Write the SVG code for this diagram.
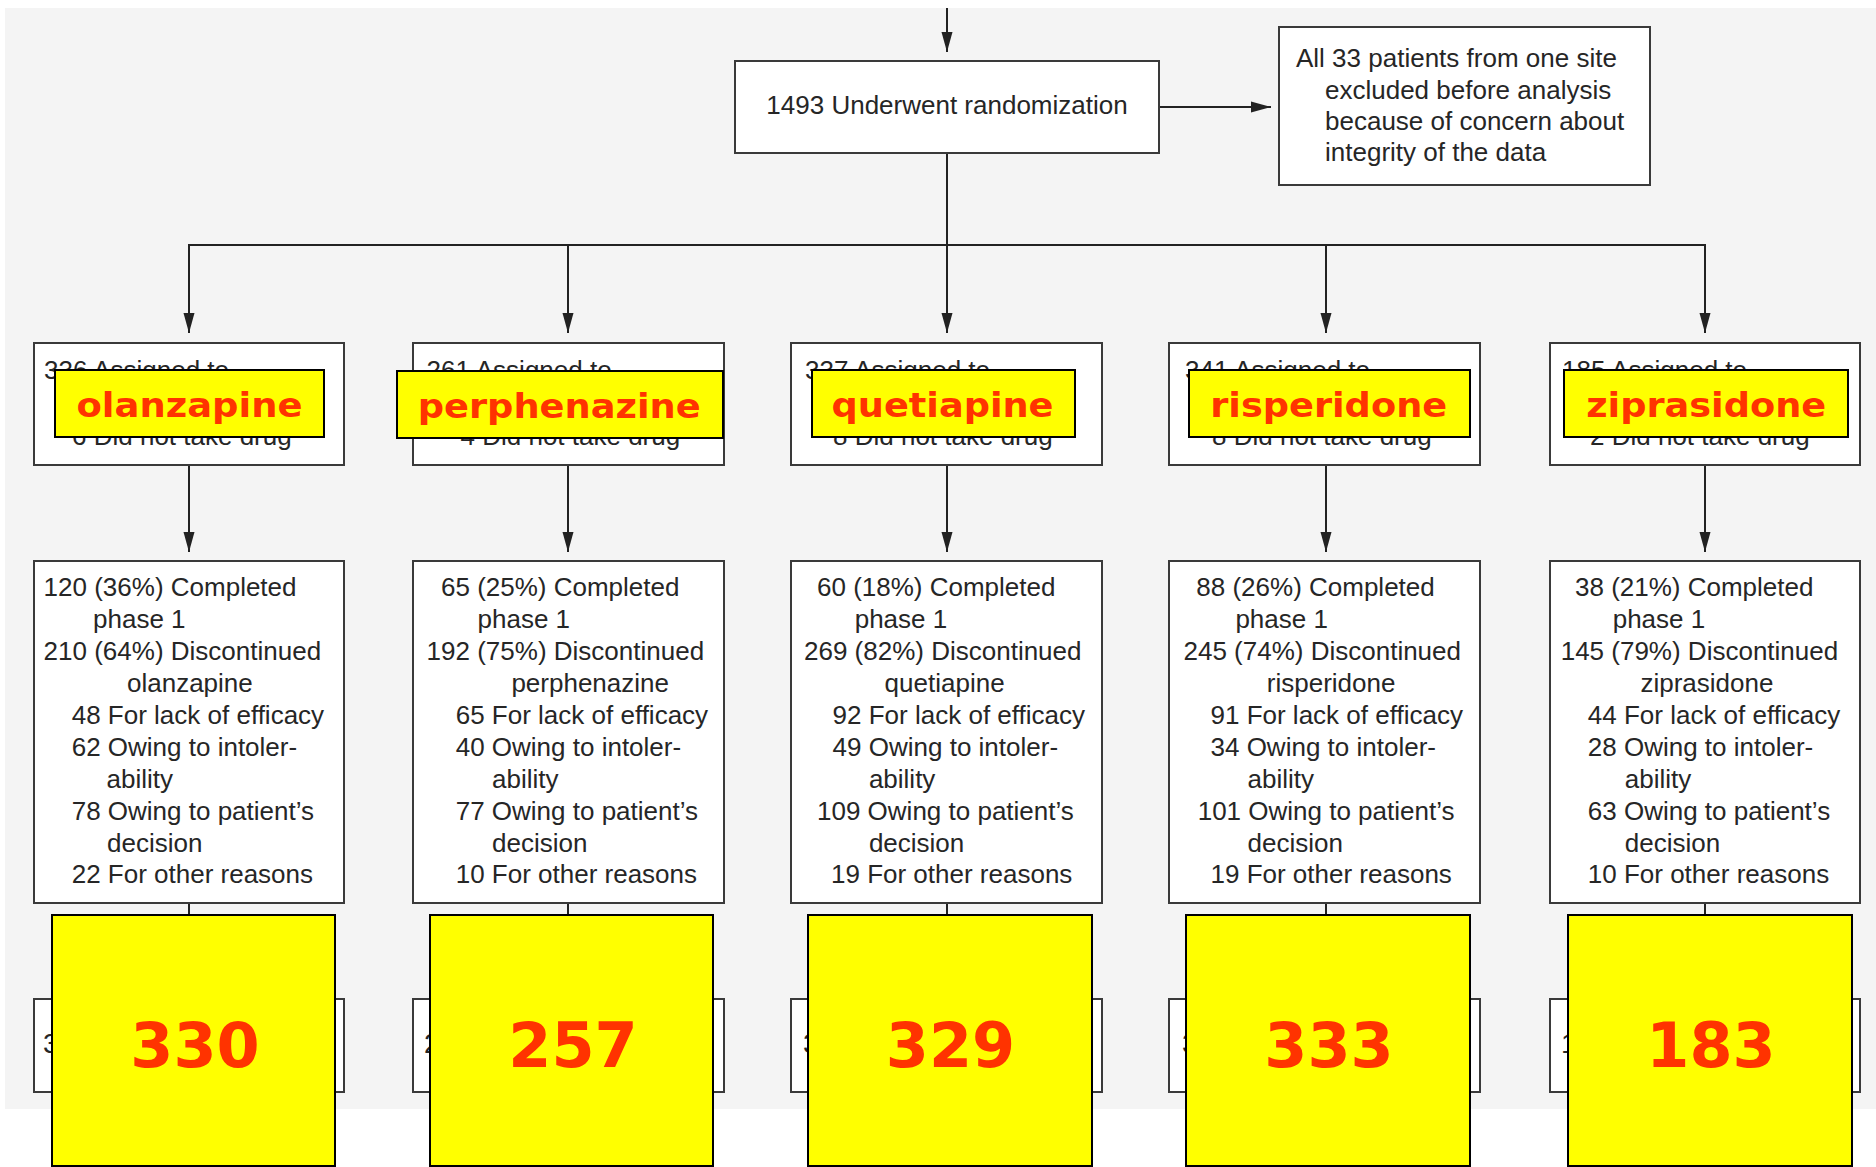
<svg xmlns="http://www.w3.org/2000/svg" width="1876" height="1167" viewBox="0 0 1876 1167">
  <defs>
    <marker id="arrow" markerUnits="userSpaceOnUse" markerWidth="20" markerHeight="12" refX="20" refY="6" orient="auto">
      <path d="M0,0.5 L20,6 L0,11.5 z" fill="#222"/>
    </marker>
    <style>
      .box { fill: #ffffff; stroke: #3a3a3a; stroke-width: 2; }
      .link { fill: none; stroke: #222; stroke-width: 2; }
      .txt { font-family: "Liberation Sans", Arial, sans-serif; font-size: 26px; fill: #262626; }
      .num-hidden { font-family: "Liberation Sans", Arial, sans-serif; font-size: 28px; fill: #262626; }
      .tag { fill: #ffff00; stroke: #000; stroke-width: 2; }
      .tag-txt { font-family: "DejaVu Sans", Verdana, sans-serif; font-weight: bold; font-size: 33px; fill: #ff3300; text-anchor: middle; }
      .count-txt { font-family: "DejaVu Sans", Verdana, sans-serif; font-weight: bold; font-size: 62px; fill: #ff3300; text-anchor: middle; }
    </style>
  </defs>

  <!-- page -->
  <rect x="0" y="0" width="1876" height="1167" fill="#ffffff"/>
  <rect x="5" y="8" width="1871" height="1101" fill="#f4f4f4"/>

  <!-- connectors -->
  <g id="connectors">
    <line class="link" x1="947" y1="8" x2="947" y2="52" marker-end="url(#arrow)"/>
    <line class="link" x1="1159" y1="107" x2="1271" y2="107" marker-end="url(#arrow)"/>
    <polyline class="link" points="947,153 947,245"/>
    <line class="link" x1="188" y1="245" x2="1706" y2="245"/>
    <line class="link" x1="189" y1="245" x2="189" y2="333" marker-end="url(#arrow)"/>
    <line class="link" x1="568" y1="245" x2="568" y2="333" marker-end="url(#arrow)"/>
    <line class="link" x1="947" y1="245" x2="947" y2="333" marker-end="url(#arrow)"/>
    <line class="link" x1="1326" y1="245" x2="1326" y2="333" marker-end="url(#arrow)"/>
    <line class="link" x1="1705" y1="245" x2="1705" y2="333" marker-end="url(#arrow)"/>
    <line class="link" x1="189" y1="465" x2="189" y2="552" marker-end="url(#arrow)"/>
    <line class="link" x1="568" y1="465" x2="568" y2="552" marker-end="url(#arrow)"/>
    <line class="link" x1="947" y1="465" x2="947" y2="552" marker-end="url(#arrow)"/>
    <line class="link" x1="1326" y1="465" x2="1326" y2="552" marker-end="url(#arrow)"/>
    <line class="link" x1="1705" y1="465" x2="1705" y2="552" marker-end="url(#arrow)"/>
    <line class="link" x1="189" y1="903" x2="189" y2="999"/>
    <line class="link" x1="568" y1="903" x2="568" y2="999"/>
    <line class="link" x1="947" y1="903" x2="947" y2="999"/>
    <line class="link" x1="1326" y1="903" x2="1326" y2="999"/>
    <line class="link" x1="1705" y1="903" x2="1705" y2="999"/>
  </g>

  <!-- randomization -->
  <g id="randomized">
    <rect class="box" x="735" y="61" width="424" height="92"/>
    <text class="txt" x="947" y="114" text-anchor="middle">1493 Underwent randomization</text>
  </g>

  <g id="excluded">
    <rect class="box" x="1279" y="27" width="371" height="158"/>
    <text class="txt" x="1296" y="67">All 33 patients from one site</text>
    <text class="txt" x="1325" y="98.5">excluded before analysis</text>
    <text class="txt" x="1325" y="130">because of concern about</text>
    <text class="txt" x="1325" y="161">integrity of the data</text>
  </g>

  <!-- assignment boxes -->
  <g id="assigned-olanzapine">
    <rect class="box" x="34" y="343" width="310" height="122"/>
    <text class="txt" x="44" y="379">336 Assigned to</text>
    <text class="txt" x="72" y="445">6 Did not take drug</text>
  </g>
  <g id="assigned-perphenazine">
    <rect class="box" x="413" y="343" width="311" height="122"/>
    <text class="txt" x="426.6" y="379">261 Assigned to</text>
    <text class="txt" x="460.5" y="445">4 Did not take drug</text>
  </g>
  <g id="assigned-quetiapine">
    <rect class="box" x="791" y="343" width="311" height="122"/>
    <text class="txt" x="805" y="379">337 Assigned to</text>
    <text class="txt" x="833" y="445">8 Did not take drug</text>
  </g>
  <g id="assigned-risperidone">
    <rect class="box" x="1169" y="343" width="311" height="122"/>
    <text class="txt" x="1185" y="379">341 Assigned to</text>
    <text class="txt" x="1212" y="445">8 Did not take drug</text>
  </g>
  <g id="assigned-ziprasidone">
    <rect class="box" x="1550" y="343" width="310" height="122"/>
    <text class="txt" x="1562" y="379">185 Assigned to</text>
    <text class="txt" x="1590" y="445">2 Did not take drug</text>
  </g>

  <!-- phase 1 outcome boxes -->
  <g id="phase1-olanzapine" class="txt">
    <rect class="box" x="34" y="561" width="310" height="342"/>
    <text x="43.6" y="596">120 (36%) Completed</text>
    <text x="93" y="628">phase 1</text>
    <text x="43.6" y="660">210 (64%) Discontinued</text>
    <text x="127" y="692">olanzapine</text>
    <text x="71.7" y="724">48 For lack of efficacy</text>
    <text x="71.7" y="755.5">62 Owing to intoler-</text>
    <text x="106.6" y="787.5">ability</text>
    <text x="71.7" y="819.5">78 Owing to patient’s</text>
    <text x="107" y="851.5">decision</text>
    <text x="71.7" y="883">22 For other reasons</text>
  </g>
  <g id="phase1-perphenazine" class="txt">
    <rect class="box" x="413" y="561" width="311" height="342"/>
    <text x="441" y="596">65 (25%) Completed</text>
    <text x="477.5" y="628">phase 1</text>
    <text x="426.6" y="660">192 (75%) Discontinued</text>
    <text x="511.4" y="692">perphenazine</text>
    <text x="455.7" y="724">65 For lack of efficacy</text>
    <text x="455.7" y="755.5">40 Owing to intoler-</text>
    <text x="492" y="787.5">ability</text>
    <text x="455.7" y="819.5">77 Owing to patient’s</text>
    <text x="492" y="851.5">decision</text>
    <text x="455.7" y="883">10 For other reasons</text>
  </g>
  <g id="phase1-quetiapine" class="txt">
    <rect class="box" x="791" y="561" width="311" height="342"/>
    <text x="817" y="596">60 (18%) Completed</text>
    <text x="854.7" y="628">phase 1</text>
    <text x="804" y="660">269 (82%) Discontinued</text>
    <text x="884.6" y="692">quetiapine</text>
    <text x="832.6" y="724">92 For lack of efficacy</text>
    <text x="832.6" y="755.5">49 Owing to intoler-</text>
    <text x="868.9" y="787.5">ability</text>
    <text x="817" y="819.5">109 Owing to patient’s</text>
    <text x="868.9" y="851.5">decision</text>
    <text x="831" y="883">19 For other reasons</text>
  </g>
  <g id="phase1-risperidone" class="txt">
    <rect class="box" x="1169" y="561" width="311" height="342"/>
    <text x="1196.3" y="596">88 (26%) Completed</text>
    <text x="1235.4" y="628">phase 1</text>
    <text x="1183.5" y="660">245 (74%) Discontinued</text>
    <text x="1266.8" y="692">risperidone</text>
    <text x="1210.5" y="724">91 For lack of efficacy</text>
    <text x="1210.5" y="755.5">34 Owing to intoler-</text>
    <text x="1247.5" y="787.5">ability</text>
    <text x="1197.7" y="819.5">101 Owing to patient’s</text>
    <text x="1247.5" y="851.5">decision</text>
    <text x="1210.5" y="883">19 For other reasons</text>
  </g>
  <g id="phase1-ziprasidone" class="txt">
    <rect class="box" x="1550" y="561" width="310" height="342"/>
    <text x="1575" y="596">38 (21%) Completed</text>
    <text x="1612.7" y="628">phase 1</text>
    <text x="1560.7" y="660">145 (79%) Discontinued</text>
    <text x="1640.4" y="692">ziprasidone</text>
    <text x="1587.8" y="724">44 For lack of efficacy</text>
    <text x="1587.8" y="755.5">28 Owing to intoler-</text>
    <text x="1624.8" y="787.5">ability</text>
    <text x="1587.8" y="819.5">63 Owing to patient’s</text>
    <text x="1624.8" y="851.5">decision</text>
    <text x="1587.8" y="883">10 For other reasons</text>
  </g>

  <!-- analysis boxes -->
  <g id="analysis-olanzapine">
    <rect class="box" x="34" y="999" width="310" height="93"/>
    <text class="num-hidden" x="43" y="1053">330</text>
  </g>
  <g id="analysis-perphenazine">
    <rect class="box" x="413" y="999" width="311" height="93"/>
    <text class="num-hidden" x="424" y="1053">257</text>
  </g>
  <g id="analysis-quetiapine">
    <rect class="box" x="791" y="999" width="311" height="93"/>
    <text class="num-hidden" x="803" y="1053">329</text>
  </g>
  <g id="analysis-risperidone">
    <rect class="box" x="1169" y="999" width="311" height="93"/>
    <text class="num-hidden" x="1182" y="1053">333</text>
  </g>
  <g id="analysis-ziprasidone">
    <rect class="box" x="1550" y="999" width="310" height="93"/>
    <text class="num-hidden" x="1561" y="1053">183</text>
  </g>

  <!-- drug name highlights -->
  <g id="tag-olanzapine">
    <rect class="tag" x="55" y="370" width="269" height="67"/>
    <text class="tag-txt" x="189.5" y="417" textLength="226" lengthAdjust="spacingAndGlyphs">olanzapine</text>
  </g>
  <g id="tag-perphenazine">
    <rect class="tag" x="397" y="371" width="326" height="67"/>
    <text class="tag-txt" x="559.2" y="418" textLength="283" lengthAdjust="spacingAndGlyphs">perphenazine</text>
  </g>
  <g id="tag-quetiapine">
    <rect class="tag" x="812" y="370" width="263" height="67"/>
    <text class="tag-txt" x="942.5" y="417" textLength="222" lengthAdjust="spacingAndGlyphs">quetiapine</text>
  </g>
  <g id="tag-risperidone">
    <rect class="tag" x="1189" y="370" width="281" height="67"/>
    <text class="tag-txt" x="1328.7" y="417" textLength="237" lengthAdjust="spacingAndGlyphs">risperidone</text>
  </g>
  <g id="tag-ziprasidone">
    <rect class="tag" x="1564" y="370" width="284" height="67"/>
    <text class="tag-txt" x="1706.2" y="417" textLength="240" lengthAdjust="spacingAndGlyphs">ziprasidone</text>
  </g>

  <!-- analysed count highlights -->
  <g id="count-olanzapine">
    <rect class="tag" x="52" y="915" width="283" height="251"/>
    <text class="count-txt" x="195" y="1067">330</text>
  </g>
  <g id="count-perphenazine">
    <rect class="tag" x="430" y="915" width="283" height="251"/>
    <text class="count-txt" x="573" y="1067">257</text>
  </g>
  <g id="count-quetiapine">
    <rect class="tag" x="808" y="915" width="284" height="251"/>
    <text class="count-txt" x="950.5" y="1067">329</text>
  </g>
  <g id="count-risperidone">
    <rect class="tag" x="1186" y="915" width="284" height="251"/>
    <text class="count-txt" x="1329" y="1067">333</text>
  </g>
  <g id="count-ziprasidone">
    <rect class="tag" x="1568" y="915" width="284" height="251"/>
    <text class="count-txt" x="1711" y="1067">183</text>
  </g>
</svg>
